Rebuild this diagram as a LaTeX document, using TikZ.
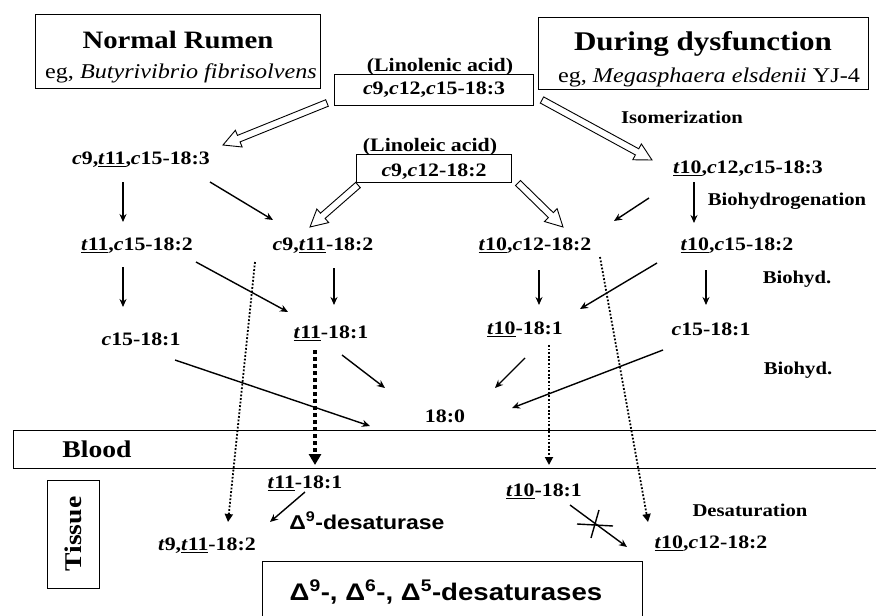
\documentclass[tikz,border=0pt]{standalone}
\usepackage{fontspec}
\setmainfont{Liberation Serif}[FakeStretch=1.15]
\setsansfont{Liberation Sans}[FakeStretch=1.15]
\usetikzlibrary{arrows.meta,calc}
\newcommand\tu[1]{\underline{\textit{t}#1}}
\newcommand\ci{\textit{c}}
\newcommand\fs[1]{\fontsize{#1}{#1}\selectfont}
\newcommand\hollowarrow[2]{%
  \coordinate (hb) at ($(#2)!17pt!(#1)$);
  \draw[hollow] ($(#1)!3.5pt!90:(#2)$) -- ($(hb)!3.5pt!90:(#2)$) -- ($(hb)!9pt!90:(#2)$) -- (#2)
    -- ($(hb)!9pt!-90:(#2)$) -- ($(hb)!3.5pt!-90:(#2)$) -- ($(#1)!3.5pt!-90:(#2)$) -- cycle;}
\tikzset{
  lbl/.style={font=\bfseries\fs{19}, inner sep=0pt, anchor=base},
  note/.style={font=\bfseries\fs{18}, inner sep=0pt, anchor=base},
  arr/.style={line width=1.4pt, -{Stealth[length=8pt,width=7pt]}},
  dotarr/.style={line width=1.8pt, dash pattern=on 1.8pt off 1.8pt, -{Triangle[length=8pt,width=8pt]}},
  thickdot/.style={line width=3.5pt, dash pattern=on 3.5pt off 3.5pt, -{Triangle[length=11pt,width=12pt]}},
  boxline/.style={draw, line width=1pt},
  hollow/.style={line width=0.9pt, fill=white, line join=miter},
}
\begin{document}
\begin{tikzpicture}[x=1pt,y=-1pt]
\useasboundingbox (0,0) rectangle (876,616);
\fill[white] (0,0) rectangle (876,616);

% header boxes
\draw[boxline] (35,14) rectangle (320,88);
\node[inner sep=0, anchor=base, font=\bfseries\fs{25}] (nr) at (178,48) {Normal Rumen};
\node[inner sep=0, anchor=base, font=\fs{21}] (nreg) at (181,78) {eg, \textit{Butyrivibrio fibrisolvens}};
\draw[boxline] (538,17) rectangle (868,89);
\node[inner sep=0, anchor=base, font=\bfseries\fs{27}] (dd) at (703,50) {During dysfunction};
\node[inner sep=0, anchor=base, font=\fs{21}] (ddeg) at (709,82) {eg, \textit{Megasphaera elsdenii} YJ-4};

% linolenic / linoleic
\node[boxline, minimum width=199pt, minimum height=31pt, inner sep=0] (lnlenbox) at (433.5,89.5) {};
\node[lbl] (lnlenname) at (440,71) {(Linolenic acid)};
\node[lbl] (lnlen) at (434,94.5) {\ci9,\ci12,\ci15-18:3};
\node[boxline, minimum width=155pt, minimum height=28pt, inner sep=0] (lnleibox) at (433.5,168) {};
\node[lbl] (lnleiname) at (430,151) {(Linoleic acid)};
\node[lbl] (lnlei) at (434,176) {\ci9,\ci12-18:2};

% notes
\node[note] (iso) at (682,123) {Isomerization};
\node[note] (bhg) at (787,205) {Biohydrogenation};
\node[note] (bh1) at (797,283) {Biohyd.};
\node[note] (bh2) at (798,374) {Biohyd.};
\node[note] (desat) at (750,516) {Desaturation};

% rumen intermediates
\node[lbl] (a1) at (141,164.5) {\ci9,\tu{11},\ci15-18:3};
\node[lbl] (b1) at (748,173.5) {\tu{10},\ci12,\ci15-18:3};
\node[lbl] (a2) at (137,250.5) {\tu{11},\ci15-18:2};
\node[lbl] (a3) at (323,250.5) {\ci9,\tu{11}-18:2};
\node[lbl] (b3) at (535,250.5) {\tu{10},\ci12-18:2};
\node[lbl] (b2) at (737,250.5) {\tu{10},\ci15-18:2};
\node[lbl] (a4) at (141,345.5) {\ci15-18:1};
\node[lbl] (a5) at (331,338.5) {\tu{11}-18:1};
\node[lbl] (b5) at (525,334.5) {\tu{10}-18:1};
\node[lbl] (b4) at (711,335.5) {\ci15-18:1};
\node[lbl] (sa) at (445,422.5) {18:0};

% blood band
\draw[line width=1pt] (876,430) -- (13,430) -- (13,468) -- (876,468);
\node[inner sep=0, anchor=base, font=\bfseries\fs{24}] (blood) at (97,457) {Blood};

% tissue
\node[boxline, minimum width=52pt, minimum height=108pt, inner sep=0] (tissuebox) at (73,534) {};
\node[inner sep=0, font=\bfseries\fs{24}, rotate=90] (tissue) at (73,534) {Tissue};
\node[lbl] (t1) at (305,488.5) {\tu{11}-18:1};
\node[inner sep=0, anchor=base, font=\sffamily\bfseries\fs{20}] (d9) at (367,529) {Δ\textsuperscript{9}-desaturase};
\node[lbl] (t2) at (207,550.5) {\textit{t}9,\tu{11}-18:2};
\node[lbl] (t3) at (544,496.5) {\tu{10}-18:1};
\node[lbl] (t4) at (711,548.5) {\tu{10},\ci12-18:2};
\draw[line width=1pt] (262,616) -- (262,561) -- (642,561) -- (642,616);
\node[inner sep=0, anchor=base, font=\sffamily\bfseries\fs{24}] (des) at (446,600.5) {Δ\textsuperscript{9}-, Δ\textsuperscript{6}-, Δ\textsuperscript{5}-desaturases};

% hollow arrows
\coordinate (hA1) at (327,103); \coordinate (hB1) at (223,145);
\coordinate (hA2) at (542,100); \coordinate (hB2) at (652,160);
\coordinate (hA3) at (358,185); \coordinate (hB3) at (310,227);
\coordinate (hA4) at (518,183); \coordinate (hB4) at (563,227);
\hollowarrow{hA1}{hB1}
\hollowarrow{hA2}{hB2}
\hollowarrow{hA3}{hB3}
\hollowarrow{hA4}{hB4}

% solid arrows
\draw[arr] (123,182) -- (123,222);
\draw[arr] (210,182) -- (273,220);
\draw[arr] (123,267) -- (123,307);
\draw[arr] (196,262) -- (288,312);
\draw[arr] (334,268) -- (334,305);
\draw[arr] (175,360) -- (370,426);
\draw[arr] (342,355) -- (385,388);
\draw[arr] (649,198) -- (614,221);
\draw[arr] (694,182) -- (694,223);
\draw[arr] (539,270) -- (539,305);
\draw[arr] (657,263) -- (580,309);
\draw[arr] (706,270) -- (706,305);
\draw[arr] (525,358) -- (495,388);
\draw[arr] (663,350) -- (512,408);
\draw[arr] (305,492) -- (270,522);
\draw[arr] (570,505) -- (627,547);
\draw[line width=1.4pt] (577,524) -- (613,526);
\draw[line width=1.4pt] (599,510) -- (591,538);

% dotted arrows
\draw[thickdot] (315,350) -- (315,465);
\draw[dotarr] (255,262) -- (228,522);
\draw[dotarr] (600,257) -- (648,522);
\draw[dotarr] (549,345) -- (549,465);
\end{tikzpicture}
\end{document}
